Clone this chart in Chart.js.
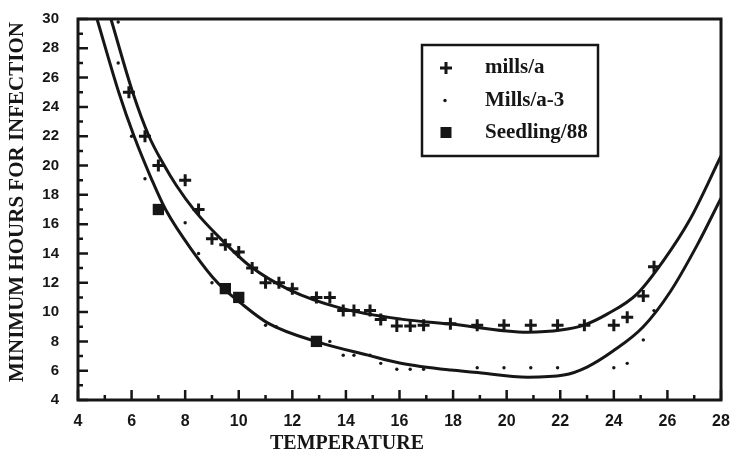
<!DOCTYPE html>
<html>
<head>
<meta charset="utf-8">
<script src="https://cdn.jsdelivr.net/npm/chart.js@4.4.0/dist/chart.umd.min.js"></script>
<style>
html,body{margin:0;padding:0;background:#fff;}
#wrap{width:733px;height:454px;position:relative;}
</style>
</head>
<body>
<div id="wrap"><canvas id="c" width="733" height="454"></canvas></div>
<script>
// ---------- data ----------
const seriesNames = ["mills/a", "Mills/a-3", "Seedling/88"];

const millsA_temp  = [5.9, 6.5, 7, 8, 8.5, 9, 9.5, 10, 10.5, 11, 11.5, 12, 12.9, 13.4, 13.9, 14.3, 14.9, 15.3, 15.9, 16.4, 16.9, 17.9, 18.9, 19.9, 20.9, 21.9, 22.9, 24, 24.5, 25.1, 25.5];
const millsA_hours = [25, 22, 20, 19, 17, 15, 14.6, 14.1, 13, 12, 12, 11.6, 11, 11, 10.1, 10.1, 10.1, 9.5, 9.05, 9.05, 9.1, 9.2, 9.1, 9.1, 9.1, 9.1, 9.1, 9.1, 9.65, 11.1, 13.1];

const millsA3_temp  = [5.5, 5.5, 6, 6.5, 8, 8.5, 9, 11, 11.4, 13.4, 13.9, 14.3, 14.9, 15.3, 15.9, 16.4, 16.9, 18.9, 19.9, 20.9, 21.9, 24, 24.5, 25.1, 25.5];
const millsA3_hours = [29.8, 27, 22, 19.1, 16.1, 14, 12, 9.1, 9, 8, 7.05, 7.05, 7.05, 6.5, 6.1, 6.1, 6.1, 6.2, 6.2, 6.2, 6.2, 6.2, 6.5, 8.1, 10.1];

const seedling_temp  = [7, 9.5, 10, 12.9];
const seedling_hours = [17, 11.6, 11, 8];

// fitted curves
const upperCurve_temp  = [5.23, 6.05, 6.65, 7.21, 7.66, 8.37, 9.3, 10.42, 11.91, 13.81, 16.05, 17.92, 20.79, 22.02, 22.88, 23.75, 24.86, 25.84, 26.85, 28];
const upperCurve_hours = [30, 24.95, 22.0, 20.03, 18.67, 16.89, 15.05, 13.14, 11.5, 10.27, 9.52, 9.18, 8.63, 8.77, 9.11, 9.86, 11.23, 13.48, 16.35, 20.65];

const lowerCurve_temp  = [4.71, 5.53, 6.09, 6.76, 7.28, 8.33, 9.22, 10.08, 11.09, 12.96, 14.82, 16.05, 17.92, 18.78, 20.79, 22.13, 23.0, 23.97, 25.09, 26.1, 27.11, 28];
const lowerCurve_hours = [30, 24.95, 22.01, 19.01, 16.96, 14.03, 11.98, 10.61, 9.25, 7.95, 7.06, 6.51, 6.04, 5.9, 5.56, 5.7, 6.25, 7.34, 8.98, 11.37, 14.57, 17.78];

const xTickValues = [4, 6, 8, 10, 12, 14, 16, 18, 20, 22, 24, 26, 28];
const yTickValues = [4, 6, 8, 10, 12, 14, 16, 18, 20, 22, 24, 26, 28, 30];

const xTitle = "TEMPERATURE";
const yTitle = "MINIMUM HOURS FOR INFECTION";

// ---------- helpers ----------
const INK = "#161616";
const zip = (xs, ys) => xs.map((v, i) => ({x: v, y: ys[i]}));
const SERIF = '"Liberation Serif", "DejaVu Serif", serif';
const SANS = '"Liberation Sans", Arial, sans-serif';

const decor = {
  id: 'decor',
  afterDraw(chart) {
    const {ctx, chartArea: a} = chart;
    const xs = chart.scales.x, ys = chart.scales.y;
    ctx.save();
    ctx.strokeStyle = INK;
    ctx.fillStyle = INK;
    // frame
    ctx.lineWidth = 3;
    ctx.strokeRect(a.left, a.top, a.right - a.left, a.bottom - a.top);
    // inward ticks
    ctx.lineWidth = 2.5;
    ctx.beginPath();
    for (let v = Math.ceil(ys.min); v <= ys.max; v++) {
      const py = ys.getPixelForValue(v);
      const len = (v % 2 === 0) ? 10 : 5;
      ctx.moveTo(a.left, py); ctx.lineTo(a.left + len, py);
    }
    for (let t = Math.ceil(xs.min); t <= xs.max; t++) {
      const px = xs.getPixelForValue(t);
      const len = (t % 2 === 0) ? 10 : 5;
      ctx.moveTo(px, a.bottom); ctx.lineTo(px, a.bottom - len);
    }
    ctx.stroke();

    // axis titles
    ctx.textAlign = 'center';
    ctx.textBaseline = 'middle';
    ctx.font = 'bold 20px ' + SERIF;
    ctx.fillText(xTitle, 347, 444);
    ctx.save();
    ctx.translate(18, 202);
    ctx.rotate(-Math.PI / 2);
    ctx.font = 'bold 21px ' + SERIF;
    ctx.fillText(yTitle, 0, 0);
    ctx.restore();

    // legend box
    const bx = 422, by = 45, bw = 176, bh = 111;
    ctx.fillStyle = '#fff';
    ctx.fillRect(bx, by, bw, bh);
    ctx.lineWidth = 2.5;
    ctx.strokeStyle = INK;
    ctx.strokeRect(bx, by, bw, bh);
    ctx.fillStyle = INK;
    const rows = [68, 100.5, 132.5];
    ctx.font = 'bold 21px ' + SERIF;
    ctx.textAlign = 'left';
    for (let i = 0; i < 3; i++) {
      const ds = chart.data.datasets[i];
      const cy = rows[i], cx = 446;
      if (ds.pointStyle === 'cross') {
        ctx.lineWidth = 3;
        ctx.beginPath();
        ctx.moveTo(cx - 6, cy); ctx.lineTo(cx + 6, cy);
        ctx.moveTo(cx, cy - 6); ctx.lineTo(cx, cy + 6);
        ctx.stroke();
      } else if (ds.pointStyle === 'rect') {
        ctx.fillRect(cx - 5.5, cy - 5.5, 11, 11);
      } else {
        ctx.beginPath(); ctx.arc(cx - 1, cy, 1.7, 0, Math.PI * 2); ctx.fill();
      }
      ctx.fillText(ds.label, 485, cy);
    }
    ctx.restore();
  }
};

new Chart(document.getElementById('c'), {
  type: 'scatter',
  data: {
    datasets: [
      {label: seriesNames[0], data: zip(millsA_temp, millsA_hours), pointStyle: 'cross', radius: 6, borderWidth: 3, borderColor: INK, backgroundColor: INK, showLine: false, order: 1},
      {label: seriesNames[1], data: zip(millsA3_temp, millsA3_hours), pointStyle: 'circle', radius: 1.7, borderWidth: 0, backgroundColor: INK, borderColor: INK, showLine: false, order: 1},
      {label: seriesNames[2], data: zip(seedling_temp, seedling_hours), pointStyle: 'rect', radius: 8, borderWidth: 0, backgroundColor: INK, borderColor: INK, showLine: false, order: 1},
      {label: 'upper fit', data: zip(upperCurve_temp, upperCurve_hours), showLine: true, borderColor: INK, borderWidth: 3, pointRadius: 0, cubicInterpolationMode: 'monotone', fill: false, order: 2},
      {label: 'lower fit', data: zip(lowerCurve_temp, lowerCurve_hours), showLine: true, borderColor: INK, borderWidth: 3, pointRadius: 0, cubicInterpolationMode: 'monotone', fill: false, order: 2}
    ]
  },
  options: {
    responsive: false,
    animation: false,
    devicePixelRatio: 1,
    layout: {padding: {left: 0, top: 19, right: 12, bottom: 0}},
    plugins: {legend: {display: false}, tooltip: {enabled: false}},
    scales: {
      x: {
        type: 'linear', min: 4, max: 28,
        afterFit(s) { s.height = 54; s.paddingLeft = 0; s.paddingRight = 0; },
        afterBuildTicks(s) { s.ticks = xTickValues.map(v => ({value: v})); },
        grid: {display: false, drawTicks: false},
        border: {display: false},
        ticks: {padding: 12, color: INK, font: {family: SANS, size: 16, weight: 'bold'}, maxRotation: 0, autoSkip: false}
      },
      y: {
        type: 'linear', min: 4, max: 30,
        afterFit(s) { s.width = 78; s.paddingTop = 0; s.paddingBottom = 0; },
        afterBuildTicks(s) { s.ticks = yTickValues.map(v => ({value: v})); },
        grid: {display: false, drawTicks: false},
        border: {display: false},
        ticks: {padding: 19, color: INK, font: {family: SANS, size: 15, weight: 'bold'}, autoSkip: false}
      }
    }
  },
  plugins: [decor]
});
</script>
</body>
</html>
